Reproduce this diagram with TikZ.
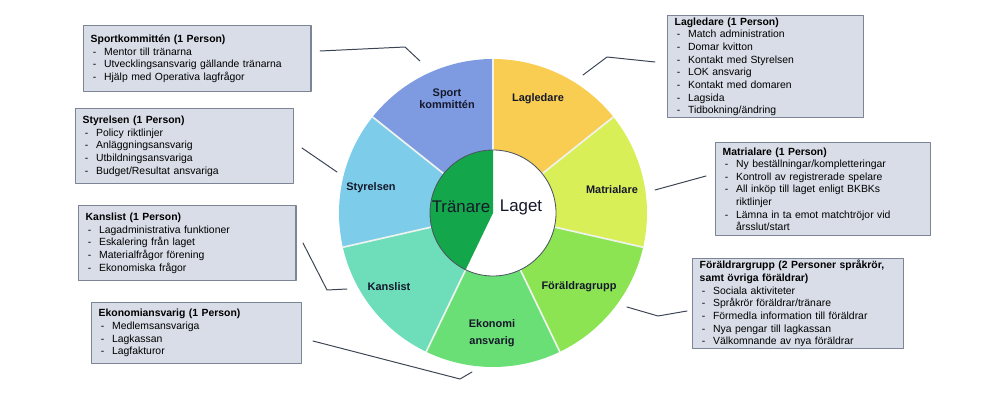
\documentclass[tikz,border=0pt]{standalone}
\usepackage{fontspec}
\setmainfont{Liberation Sans}
\usepackage{tikz}
\usetikzlibrary{calc}
\definecolor{tmInk}{HTML}{15182A}
\definecolor{tmLine}{HTML}{3B4452}
\definecolor{tmBoxFill}{HTML}{D8DDE7}
\definecolor{tmBoxDraw}{HTML}{7B8596}
\definecolor{tmSport}{HTML}{7E9BE2}
\definecolor{tmLagledare}{HTML}{F8CD52}
\definecolor{tmMatrial}{HTML}{D9EF58}
\definecolor{tmForaldrar}{HTML}{8CE452}
\definecolor{tmEkonomi}{HTML}{6ADF75}
\definecolor{tmKanslist}{HTML}{6EDDBA}
\definecolor{tmStyrelsen}{HTML}{7DCDEA}
\definecolor{tmHub}{HTML}{14A64A}
\definecolor{tmGap}{HTML}{EEF3EE}
\definecolor{tmRim}{HTML}{4A5560}
\newcommand{\itm}[1]{\par\hangindent=9.5pt\hangafter=1\noindent
  \hspace*{1.5pt}\makebox[8pt][l]{-}#1}
\tikzset{
  team diagram/.style={font=\fontsize{7.4pt}{9pt}\selectfont, text=black,
    line cap=round, line join=round},
  team box/.style={draw=tmBoxDraw, fill=tmBoxFill, line width=1pt,
    anchor=north west, align=left, inner xsep=5pt, inner ysep=1pt},
  team link/.style={draw=tmLine, line width=0.7pt},
  team label/.style={font=\fontsize{7.8pt}{8.7pt}\selectfont\bfseries,
    text=tmInk, align=center},
  team hub/.style={font=\fontsize{12pt}{14pt}\selectfont, text=tmInk}
}
\begin{document}
\begin{tikzpicture}[team diagram,x=0.025cm,y=0.025cm]
\useasboundingbox (0,0) rectangle (1000,-401);
\coordinate (hub) at (493,-213);
\foreach \clr [count=\i from 0] in {tmSport,tmStyrelsen,tmKanslist,tmEkonomi,tmForaldrar,tmMatrial,tmLagledare}{
  \pgfmathsetmacro{\a}{90+\i*360/7}
  \pgfmathsetmacro{\b}{90+(\i+1)*360/7}
  \fill[\clr] ($(hub)+(\a:154)$) arc[start angle=\a,end angle=\b,radius=154]
    -- ($(hub)+(\b:63)$) arc[start angle=\b,end angle=\a,radius=63] -- cycle;
}
\foreach \k in {0,...,6}
  \draw[tmGap,line width=1.2pt] ($(hub)+({90+\k*360/7}:63)$) -- ($(hub)+({90+\k*360/7}:154)$);
\fill[white] (hub) circle[radius=63];
\fill[tmHub] (hub) -- ++(90:63) arc[start angle=90,end angle={90+3*360/7},radius=63] -- cycle;
\draw[tmRim,line width=0.6pt] (hub) circle[radius=63];

\node[team label] (sportlbl) at (447,-99) {Sport\\kommittén};
\node[team label] (lagledlbl) at (538,-99) {Lagledare};
\node[team label] (matrlbl) at (612,-190) {Matrialare};
\node[team label] (foraldlbl) at (579,-287) {Föräldragrupp};
\node[team label] (ekonlbl) at (492,-333) {Ekonomi\\[3pt]ansvarig};
\node[team label] (kanslbl) at (389,-287) {Kanslist};
\node[team label] (styrlbl) at (371,-188) {Styrelsen};
\node[team hub] (coachlbl) at (461,-207) {Tränare};
\node[team hub] (teamlbl) at (521,-207) {Laget};

\node[team box,text width=151.5pt,minimum height=46.9pt] (sportbox) at (83,-25)
  {\textbf{Sportkommittén (1 Person)}
   \itm{Mentor till tränarna}
   \itm{Utvecklingsansvarig gällande tränarna}
   \itm{Hjälp med Operativa lagfrågor}};
\node[team box,text width=145pt,minimum height=53.3pt] (styrbox) at (75,-108)
  {\textbf{Styrelsen (1 Person)}
   \itm{Policy riktlinjer}
   \itm{Anläggningsansvarig}
   \itm{Utbildningsansvariga}
   \itm{Budget/Resultat ansvariga}};
\node[team box,text width=144.4pt,minimum height=53.3pt] (kansbox) at (78,-205)
  {\textbf{Kanslist (1 Person)}
   \itm{Lagadministrativa funktioner}
   \itm{Eskalering från laget}
   \itm{Materialfrågor förening}
   \itm{Ekonomiska frågor}};
\node[team box,text width=139.4pt,minimum height=43.4pt] (ekonbox) at (91,-302)
  {\textbf{Ekonomiansvarig (1 Person)}
   \itm{Medlemsansvariga}
   \itm{Lagkassan}
   \itm{Lagfakturor}};
\node[team box,text width=129.4pt,minimum height=72.6pt] (lagledbox) at (667,-15)
  {\textbf{Lagledare (1 Person)}
   \itm{Match administration}
   \itm{Domar kvitton}
   \itm{Kontakt med Styrelsen}
   \itm{LOK ansvarig}
   \itm{Kontakt med domaren}
   \itm{Lagsida}
   \itm{Tidbokning/ändring}};
\node[team box,text width=142.9pt,minimum height=66.2pt] (matrbox) at (715,-142)
  {\textbf{Matrialare (1 Person)}
   \itm{Ny beställningar/kompletteringar}
   \itm{Kontroll av registrerade spelare}
   \itm{All inköp till laget enligt BKBKs\newline riktlinjer}
   \itm{Lämna in ta emot matchtröjor vid\newline årsslut/start}\par};
\node[team box,text width=140.1pt,minimum height=64pt] (foraldbox) at (692,-258)
  {\textbf{Föräldrargrupp (2 Personer språkrör,\newline samt övriga föräldrar)}
   \itm{Sociala aktiviteter}
   \itm{Språkrör föräldrar/tränare}
   \itm{Förmedla information till föräldrar}
   \itm{Nya pengar till lagkassan}
   \itm{Välkomnande av nya föräldrar}};

\coordinate (sportfrom) at (320,-51);
\coordinate (sportto) at (420,-61);
\coordinate (styrfrom) at (302,-148);
\coordinate (styrto) at (337,-172);
\coordinate (kansfrom) at (303,-243);
\coordinate (kansto) at (347,-289);
\coordinate (ekonfrom) at (313,-341);
\coordinate (ekonto) at (472,-372);
\coordinate (lagledfrom) at (583,-75);
\coordinate (lagledto) at (655,-62);
\coordinate (matrfrom) at (655,-190);
\coordinate (matrto) at (706,-176);
\coordinate (foraldfrom) at (627,-307);
\coordinate (foraldto) at (687,-311);
\draw[team link] (sportfrom) -- (405,-47) -- (sportto);
\draw[team link] (styrfrom) -- (styrto);
\draw[team link] (kansfrom) -- (327,-290) -- (kansto);
\draw[team link] (ekonfrom) -- (460,-379) -- (ekonto);
\draw[team link] (lagledfrom) -- (607,-57) -- (lagledto);
\draw[team link] (matrfrom) -- (matrto);
\draw[team link] (foraldfrom) -- (658,-316) -- (foraldto);
\end{tikzpicture}
\end{document}
